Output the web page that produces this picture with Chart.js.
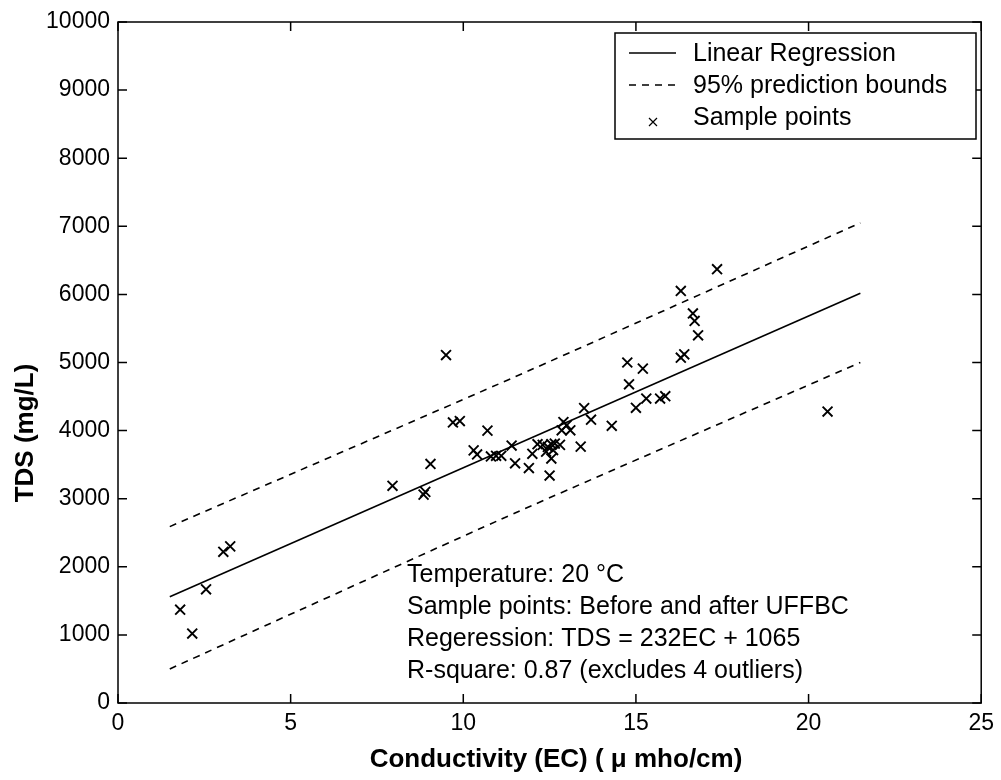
<!DOCTYPE html>
<html>
<head>
<meta charset="utf-8">
<title>TDS vs Conductivity</title>
<script src="https://cdn.jsdelivr.net/npm/chart.js@4.4.1/dist/chart.umd.min.js"></script>
<style>
  html, body { margin: 0; padding: 0; background: #fff; }
</style>
</head>
<body>
<canvas id="tdsChart" width="1001" height="780"></canvas>
<script>
// axis ticks
const xTicks = [0, 5, 10, 15, 20, 25];
const yTicks = [0, 1000, 2000, 3000, 4000, 5000, 6000, 7000, 8000, 9000, 10000];

// sample points (EC in umho/cm, TDS in mg/L)
const sampleEC = [
  1.8, 2.15, 2.55, 3.05, 3.25, 7.95, 8.9, 8.85, 9.05, 9.5,
  9.7, 9.9, 10.3, 10.4, 10.7, 10.8, 10.95, 11.1, 11.4, 11.5,
  11.9, 12.0, 12.15, 12.3, 12.4, 12.45, 12.55, 12.55, 12.5, 12.6,
  12.65, 12.8, 12.85, 12.9, 13.0, 13.1, 13.4, 13.5, 13.7, 14.3,
  14.75, 14.8, 15.0, 15.2, 15.3, 15.7, 15.85, 16.3, 16.3, 16.4,
  16.65, 16.7, 16.8, 17.35, 20.55
];
const sampleTDS = [
  1370, 1020, 1670, 2220, 2300, 3190, 3100, 3060, 3510, 5110,
  4120, 4140, 3710, 3650, 4000, 3620, 3630, 3630, 3780, 3520,
  3450, 3660, 3800, 3790, 3690, 3760, 3800, 3590, 3340, 3715,
  3810, 3790, 4005, 4125, 4080, 4005, 3765, 4330, 4160, 4070,
  5000, 4680, 4335, 4910, 4470, 4470, 4505, 6050, 5070, 5120,
  5720, 5610, 5400, 6370, 4280
];

// regression line and 95% prediction bounds
const fitEC = [1.5, 21.5];
const fitTDS = [1560, 6016];
const boundEC = [1.5, 11.5, 21.5];
const upperTDS = [2590, 4790, 7050];
const lowerTDS = [500, 2790, 5000];

const legendLabels = ['Linear Regression', '95% prediction bounds', 'Sample points'];
const noteLines = [
  'Temperature: 20 °C',
  'Sample points: Before and after UFFBC',
  'Regeression: TDS = 232EC + 1065',
  'R-square: 0.87 (excludes 4 outliers)'
];

const toXY = (xs, ys) => xs.map((x, i) => ({ x: x, y: ys[i] }));

const FONT = "'Liberation Sans', Arial, Helvetica, sans-serif";
const DASH = [7, 6];

// box, inward ticks, legend, annotation and axis titles
const figureDecor = {
  id: 'figureDecor',
  afterDraw(chart) {
    const ctx = chart.ctx;
    const a = chart.chartArea;
    const xs = chart.scales.x, ys = chart.scales.y;
    ctx.save();
    ctx.strokeStyle = '#000';
    ctx.lineWidth = 1.5;
    ctx.strokeRect(a.left, a.top, a.right - a.left, a.bottom - a.top);

    // ticks pointing inward on all four sides
    ctx.beginPath();
    xs.ticks.forEach(t => {
      const px = xs.getPixelForValue(t.value);
      ctx.moveTo(px, a.bottom); ctx.lineTo(px, a.bottom - 9);
      ctx.moveTo(px, a.top); ctx.lineTo(px, a.top + 9);
    });
    ys.ticks.forEach(t => {
      const py = ys.getPixelForValue(t.value);
      ctx.moveTo(a.left, py); ctx.lineTo(a.left + 9, py);
      ctx.moveTo(a.right, py); ctx.lineTo(a.right - 9, py);
    });
    ctx.stroke();

    // legend
    const lx = 615, ly = 33, lw = 361, lh = 106;
    ctx.fillStyle = '#fff';
    ctx.fillRect(lx, ly, lw, lh);
    ctx.lineWidth = 1.5;
    ctx.strokeRect(lx, ly, lw, lh);
    const rows = [53, 85, 117];
    ctx.lineWidth = 1.5;
    ctx.beginPath();
    ctx.moveTo(629, rows[0]); ctx.lineTo(676, rows[0]);
    ctx.stroke();
    ctx.setLineDash(DASH);
    ctx.beginPath();
    ctx.moveTo(629, rows[1]); ctx.lineTo(676, rows[1]);
    ctx.stroke();
    ctx.setLineDash([]);
    ctx.lineWidth = 1.2;
    ctx.beginPath();
    ctx.moveTo(649, rows[2] + 1); ctx.lineTo(657, rows[2] + 9);
    ctx.moveTo(657, rows[2] + 1); ctx.lineTo(649, rows[2] + 9);
    ctx.stroke();
    ctx.fillStyle = '#000';
    ctx.font = '25px ' + FONT;
    ctx.textAlign = 'left';
    ctx.textBaseline = 'middle';
    legendLabels.forEach((s, i) => ctx.fillText(s, 693, rows[i] + 1));

    // annotation block
    ctx.textBaseline = 'alphabetic';
    noteLines.forEach((s, i) => ctx.fillText(s, 407, 582 + i * 32));

    // axis titles
    ctx.font = 'bold 26px ' + FONT;
    ctx.textAlign = 'center';
    ctx.textBaseline = 'middle';
    ctx.fillText('Conductivity (EC) ( \u03BC mho/cm)', 556, 760);
    ctx.translate(26, 433);
    ctx.rotate(-Math.PI / 2);
    ctx.fillText('TDS (mg/L)', 0, 0);
    ctx.restore();
  }
};

new Chart(document.getElementById('tdsChart'), {
  type: 'scatter',
  data: {
    datasets: [
      {
        label: 'Sample points',
        data: toXY(sampleEC, sampleTDS),
        pointStyle: 'crossRot',
        pointRadius: 7,
        pointBorderWidth: 1.9,
        borderColor: '#000',
        backgroundColor: '#000'
      },
      {
        label: 'Linear Regression',
        data: toXY(fitEC, fitTDS),
        showLine: true,
        pointRadius: 0,
        borderColor: '#000',
        borderWidth: 1.6
      },
      {
        label: '95% prediction bounds',
        data: toXY(boundEC, upperTDS),
        showLine: true,
        tension: 0.2,
        pointRadius: 0,
        borderColor: '#000',
        borderWidth: 1.6,
        borderDash: DASH
      },
      {
        label: '95% prediction bounds (lower)',
        data: toXY(boundEC, lowerTDS),
        showLine: true,
        tension: 0.2,
        pointRadius: 0,
        borderColor: '#000',
        borderWidth: 1.6,
        borderDash: DASH
      }
    ]
  },
  options: {
    responsive: false,
    animation: false,
    devicePixelRatio: 1,
    layout: { padding: { top: 22, right: 16, left: 0, bottom: 0 } },
    plugins: {
      legend: { display: false },
      tooltip: { enabled: false }
    },
    scales: {
      x: {
        type: 'linear',
        min: 0,
        max: 25,
        afterBuildTicks: s => { s.ticks = xTicks.map(v => ({ value: v })); },
        afterFit: s => { s.height = 77; },
        grid: { display: false, drawTicks: false },
        border: { display: false },
        ticks: {
          color: '#000',
          padding: 7,
          font: { family: FONT, size: 23 }
        }
      },
      y: {
        type: 'linear',
        min: 0,
        max: 10000,
        afterBuildTicks: s => { s.ticks = yTicks.map(v => ({ value: v })); },
        afterFit: s => { s.width = 118; },
        grid: { display: false, drawTicks: false },
        border: { display: false },
        ticks: {
          color: '#000',
          padding: 8,
          font: { family: FONT, size: 23 },
          callback: v => String(v)
        }
      }
    }
  },
  plugins: [figureDecor]
});
</script>
</body>
</html>
